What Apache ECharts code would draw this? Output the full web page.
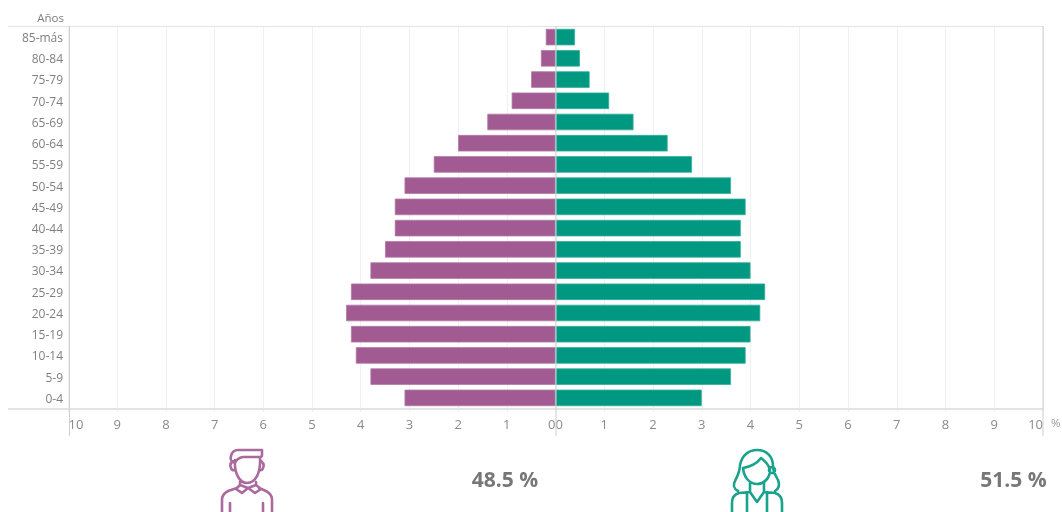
<!DOCTYPE html>
<html><head><meta charset="utf-8">
<style>html,body{margin:0;padding:0;background:#fff;overflow:hidden}#c{width:1062px;height:512px}</style>
<script src="https://cdn.jsdelivr.net/npm/echarts@6/dist/echarts.min.js"></script>
</head><body><div id="c"></div>
<script>
const categories = ['0-4','5-9','10-14','15-19','20-24','25-29','30-34','35-39','40-44','45-49','50-54','55-59','60-64','65-69','70-74','75-79','80-84','85-más'];
const men = [3.1,3.8,4.1,4.2,4.3,4.2,3.8,3.5,3.3,3.3,3.1,2.5,2.0,1.4,0.9,0.5,0.3,0.2];
const women = [3.0,3.6,3.9,4.0,4.2,4.3,4.0,3.8,3.8,3.9,3.6,2.8,2.3,1.6,1.1,0.7,0.5,0.4];
const menShare = '48.5 %';
const womenShare = '51.5 %';
const font = '"Open Sans", sans-serif';
const PURPLE = '#a25a93', GREEN = '#009880', TXT = '#7f7f7f', RULE = '#e3e3e3', END = '#cfcfcf';
const GL = 68.5, GM = 555.5, GR = 1043, GT = 26.5, GB = 408.5;

function xAxis(idx, inverse, minAlign, maxAlign){
  return {type:'value',gridIndex:idx,min:0,max:10,interval:1,inverse,
    axisLine:{show:false},
    axisTick:{show:true,length:4,lineStyle:{color:'#eeeeee'}},
    axisLabel:{color:'#8a8a8a',fontSize:13,fontFamily:font,margin:10,alignMinLabel:minAlign,alignMaxLabel:maxAlign,showMinLabel:true,showMaxLabel:true},
    splitLine:{show:true,lineStyle:{color:'#f1f1f1',width:1}}};
}
function yAxis(idx, show){
  return {type:'category',gridIndex:idx,data:categories,
    axisLine:{show:false},axisTick:{show:false},
    axisLabel:{show,margin:5.5,interval:0,formatter:'{a|{value}}',
      rich:{a:{color:TXT,fontSize:12,fontFamily:font,padding:[3,0,0,0]}}}};
}
function vline(x,y1,y2,c){return {type:'line',z:20,shape:{x1:x,y1,x2:x,y2},style:{stroke:c,lineWidth:1}};}
function hline(y,x1,x2,w){return {type:'line',z:2,shape:{x1,y1:y,x2,y2:y},style:{stroke:RULE,lineWidth:w}};}

const manPath = 'M235 463 C231 462 230 460 231 456 C232 452 234 450 238 450 L262 450 L262 455 Q262 457 260 457 L243 457 Q237 458 235 463 ' +
  'M235 460 C234 474 240 483 247 483 C255 483 261 474 260 457 ' +
  'M233 461 Q229 464 231 468 Q232 471 235 470 M261 461 Q265 464 263 468 Q262 471 260 470 ' +
  'M240 482 L240 485 L236 489 L242 493 L248 488 L255 493 L261 489 L256 485 L256 482 M240 485 L248 488 L256 485 ' +
  'M237 488 L228 491 Q222 494 222 500 L222 512 M259 488 L266 491 Q272 494 272 500 L272 512 ' +
  'M230 503 L230 512 M263 503 L263 512';
const womanPath = 'M740 465 C742 455 749 450 757 450 C767 450 773 457 773 466 C773 472 776 476 778 480 C780 485 778 489 775 491 ' +
  'M740 465 C740 472 737 477 735 481 C733 485 734 489 738 491 ' +
  'M743 468 Q755 466 761 458 C765 461 769 465 770 470 C770 478 764 484 757 484 C750 484 744 478 743 468 ' +
  'M775 470 A3 3 0 1 1 769 470 A3 3 0 1 1 775 470 ' +
  'M750 483 L750 492 L757 502 L764 492 L764 483 ' +
  'M750 492 L739 493 Q732 495 732 503 L732 512 M764 492 L775 493 Q782 495 782 503 L782 512 ' +
  'M747 493 L747 512 M767 493 L767 512';
echarts.graphic.registerShape('manIcon', echarts.graphic.extendPath(manPath, {}));
echarts.graphic.registerShape('womanIcon', echarts.graphic.extendPath(womanPath, {}));
const iconStyle = c => ({fill:null,stroke:c,lineWidth:2.6,lineCap:'round',lineJoin:'round',opacity:.9});

const chart = echarts.init(document.getElementById('c'),null,{renderer:'canvas'});
chart.setOption({
  animation:false,backgroundColor:'#fff',
  grid:[
    {left:GL,width:GM-GL,top:GT,height:GB-GT,containLabel:false},
    {left:GM,width:GR-GM,top:GT,height:GB-GT,containLabel:false}
  ],
  xAxis:[xAxis(0,true,'right','left'),xAxis(1,false,'left','right')],
  yAxis:[yAxis(0,true),yAxis(1,false)],
  series:[
    {name:'Hombres',type:'bar',xAxisIndex:0,yAxisIndex:0,data:men,barWidth:16.5,itemStyle:{color:PURPLE,borderColor:'#b27aa6',borderWidth:0.8},silent:true},
    {name:'Mujeres',type:'bar',xAxisIndex:1,yAxisIndex:1,data:women,barWidth:16.5,itemStyle:{color:GREEN,borderColor:'#33ad99',borderWidth:0.8},silent:true}
  ],
  graphic:[
    hline(26.5,8,GR,1), hline(409,8,GR,2),
    vline(69.5,26,436,END), vline(556,26,436,END), vline(1043,26,436,END),
    {type:'text',z:10,style:{text:'Años',x:64,y:18.5,align:'right',verticalAlign:'middle',fill:TXT,font:'11.5px '+font}},
    {type:'text',z:10,style:{text:'%',x:1051,y:424,align:'left',verticalAlign:'middle',fill:'#9a9a9a',font:'11.5px '+font}},
    {type:'text',z:10,style:{text:menShare,x:505,y:481,align:'center',verticalAlign:'middle',fill:'#777777',font:'bold 21px '+font}},
    {type:'text',z:10,style:{text:womenShare,x:1013.5,y:481,align:'center',verticalAlign:'middle',fill:'#777777',font:'bold 21px '+font}},
    {type:'manIcon',z:5,style:iconStyle(PURPLE)},
    {type:'womanIcon',z:5,style:iconStyle(GREEN)}
  ]
});
</script></body></html>
